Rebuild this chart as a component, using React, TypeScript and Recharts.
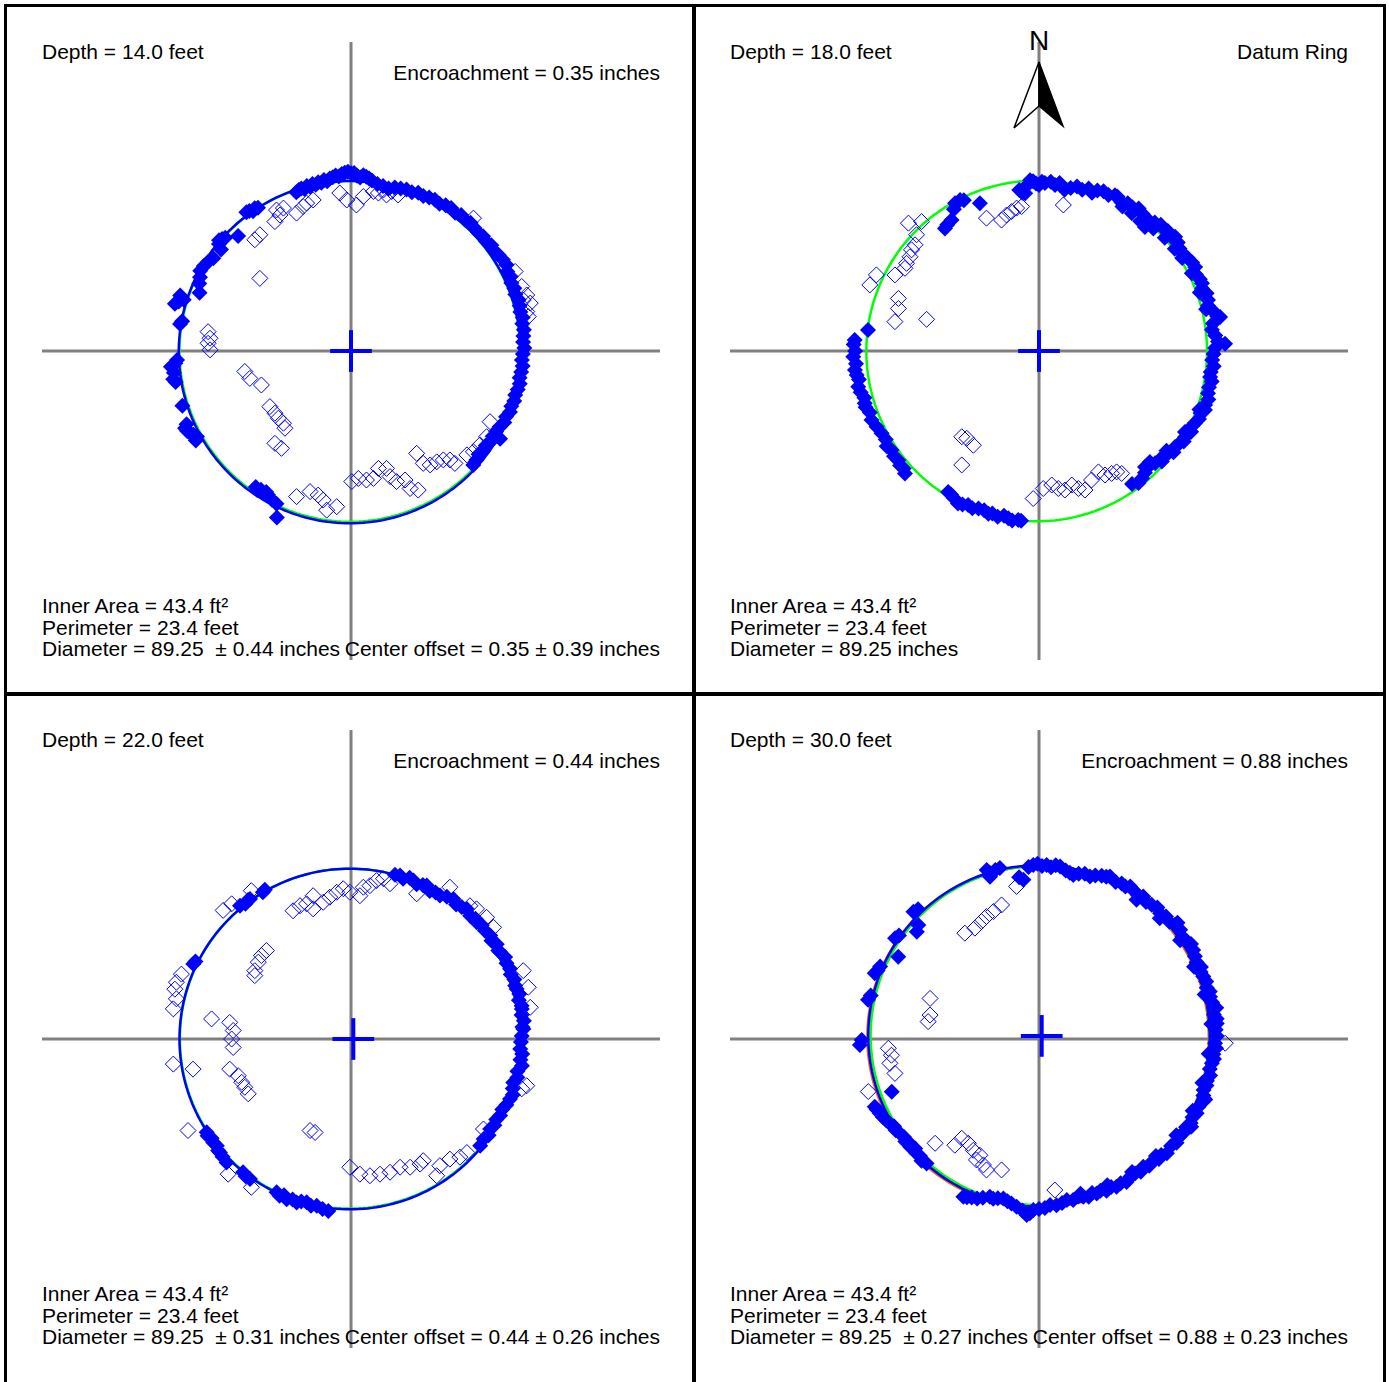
import React from 'react';
import { ScatterChart, Scatter, XAxis, YAxis, ReferenceLine } from 'recharts';

// Radial caliper readings, [bearing in degrees (math convention), radius in inches]
const depth14Solid: [number, number][] = [
  [246, 47.2], [244, 44.0], [242, 43.6], [240, 43.0], [239, 42.6], [238, 43.2], [237, 42.8], [236, 43.4], [235, 43.0],
  [210, 46.4], [209, 45.6], [208, 46.2], [207, 46.8], [206, 47.2], [205, 47.4], [204, 46.6], [198, 45.9],
  [190, 46.1], [189, 46.6], [187, 46.2], [185, 46.8], [184, 45.6], [183, 45.1], [171, 44.8], [170, 44.4],
  [165, 47.2], [164, 46.4], [163, 45.3], [162, 46.5], [159, 42.0], [156, 43.0], [154, 43.5], [152, 44.2],
  [150, 44.0], [148, 43.6], [146, 43.0], [142, 42.7], [141, 44.0], [140, 44.6], [139, 44.2], [138, 43.8],
  [134.5, 41.7], [127, 45.0], [126, 44.8], [125, 44.2], [124, 44.6], [123, 44.2],
  [109, 43.5], [108, 43.8], [107, 44.0], [106, 43.6], [105, 44.2], [104, 43.8], [103, 44.4], [102, 44.0],
  [101, 44.5], [100, 44.2], [99, 44.8], [98, 44.4], [97, 45.0], [96, 45.2], [95, 45.6], [94, 45.3], [93, 45.9],
  [92, 46.2], [91, 46.4], [90, 46.0], [89, 46.1], [88, 45.4], [87, 45.0], [86, 45.6], [85, 45.3], [84, 44.9], [83, 44.5],
  [81, 43.8], [79, 43.5], [77, 43.2], [75, 43.8], [73, 44.0], [71, 44.2], [69, 44.0], [67, 44.5], [65, 44.3],
  [63, 44.6], [61, 44.8], [59, 44.5], [57, 45.0], [55, 45.2], [53, 44.8], [51, 45.3], [49, 45.0], [47, 45.4],
  [45, 45.1], [43, 45.0], [41, 45.3], [39, 45.0], [37, 45.5], [35, 45.2], [33, 45.6], [31, 45.9], [29, 46.0],
  [27, 45.4], [25, 45.6], [23, 45.1], [21, 45.3], [19, 45.0], [17, 45.4], [15, 45.2], [13, 45.0], [11, 45.3],
  [9, 44.9], [7, 45.1], [5, 44.8], [3, 44.6], [1, 44.9], [-1, 44.5], [-3, 44.3], [-5, 44.6], [-7, 44.4],
  [-9, 44.2], [-11, 44.5], [-13, 44.3], [-15, 44.0], [-17, 44.2], [-19, 43.9], [-21, 44.1], [-23, 43.6],
  [-25, 43.8], [-27, 43.2], [-29, 43.0], [-30.5, 44.8], [-31, 42.8], [-33, 43.1], [-35, 42.6], [-37, 42.9],
  [-39, 42.5], [-41, 43.0], [-43, 43.3],
];

// Rejected readings, [x, y] in inches
const depth14Open: [number, number][] = [
  [-19.3, 36.5], [-17.5, 37.0], [-19.7, 33.5], [-18.4, 35.2], [-14.1, 35.7], [-12.4, 37.4], [-11.5, 38.3],
  [-9.8, 39.1], [-2.9, 40.9], [-1.1, 39.1], [1.4, 37.8], [3.2, 40.0], [5.8, 41.3], [7.1, 40.9], [8.4, 41.7],
  [9.2, 40.4], [10.5, 41.3], [12.2, 40.4], [-23.6, 30.1], [-24.9, 28.8], [-23.6, 18.8], [-37.0, 5.0],
  [-36.5, 3.3], [-37.0, 2.0], [-36.5, 0.3], [-27.5, -5.3], [-26.2, -7.1], [-23.2, -8.8], [-21.0, -14.4],
  [-19.7, -16.1], [-18.8, -17.4], [-17.5, -18.7], [-17.1, -20.0], [-19.7, -23.9], [-18.0, -25.2],
  [-14.1, -37.7], [-10.6, -36.4], [-8.5, -37.3], [-7.2, -38.6], [-6.3, -41.2], [-3.7, -40.3], [0.2, -33.8],
  [1.9, -33.0], [4.0, -33.4], [5.8, -33.0], [7.1, -30.4], [9.2, -30.4], [10.1, -32.5], [11.8, -33.8],
  [14.0, -33.4], [15.3, -35.6], [17.4, -36.0], [17.0, -26.5], [18.7, -29.1], [20.5, -29.5], [22.2, -28.7],
  [23.9, -28.2], [25.6, -28.2], [26.9, -29.1], [30.0, -26.9], [31.7, -26.1], [33.4, -24.3], [35.1, -22.2],
  [36.0, -18.3], [42.5, 20.6], [44.2, 16.7], [45.5, 14.5], [44.6, 13.2], [46.4, 12.4], [45.5, 10.2],
  [45.9, 8.9], [31.7, 34.4],
];

const depth18Solid: [number, number][] = [
  [97, 42.0], [96, 41.2], [95, 41.0], [94, 43.1], [93, 44.3], [92, 44.0], [91, 43.4], [90, 43.0], [89, 43.8],
  [88, 43.5], [86, 43.9], [84.5, 43.2], [83, 43.8], [81, 42.3], [79, 43.0], [77, 43.7], [75, 43.2], [73, 44.0],
  [71.5, 43.2], [70, 44.2], [68, 44.6], [66, 44.2], [64, 44.9], [63, 44.8], [61, 44.0], [59, 44.6], [57, 44.4],
  [55, 45.0], [53, 44.5], [51.7, 44.3], [49.5, 42.2], [48, 44.8], [46, 45.4], [45, 45.2], [43, 45.6], [41, 45.2],
  [40, 46.0], [38, 45.6], [36, 45.0], [34.4, 44.9], [32, 45.4], [30, 45.8], [28.3, 45.9], [26, 45.2], [24, 45.6],
  [22.6, 45.7], [21, 45.2], [19, 45.9], [16.8, 45.7], [15, 45.3], [13, 46.2], [11, 47.0], [10.6, 47.7], [9, 45.6],
  [7, 45.1], [5, 45.8], [3, 46.4], [2.2, 48.2], [1, 45.6], [-1, 45.2], [-3, 44.9], [-5, 45.4], [-7, 44.8],
  [-8.6, 44.8], [-10, 45.4], [-12, 45.0], [-14, 45.1], [-16, 45.6], [-18, 45.2], [-19.6, 45.6], [-21, 44.8],
  [-23, 45.0], [-24.8, 44.5], [-26, 44.2], [-28, 44.6], [-30.5, 43.9], [-32, 44.2], [-34, 43.4], [-35.2, 43.1],
  [-37, 43.6], [-39, 42.6], [-40.8, 42.1], [-42, 42.8], [-44, 41.8], [-46, 41.2], [-47.6, 40.7], [-49, 41.8],
  [-51, 42.4], [-53, 42.8], [-55, 42.0],
  [60, 43.2], [56, 43.0], [52, 42.6], [47, 43.4], [42, 43.8], [37, 44.0], [33, 44.2], [27, 44.4], [20, 44.3],
  [14, 44.6], [-20, 44.2], [-29, 43.2], [-38, 41.9], [-45, 40.6],
  [264, 44.2], [263, 44.1], [261, 44.4], [259.6, 44.0], [258, 43.6], [256, 44.2], [254, 43.8], [252.7, 44.1],
  [251, 43.6], [249, 43.7], [247, 44.2], [245.3, 43.9], [243.5, 44.4], [242, 44.7], [240, 44.0], [238.5, 43.6],
  [237.2, 43.4],
  [222.4, 47.0], [221, 46.4], [219.5, 46.6], [217.8, 46.1], [216, 46.4], [213.9, 46.0], [212, 46.5], [210, 45.8],
  [207.6, 46.0], [205, 46.4], [202.4, 46.9], [200, 46.6], [198, 47.2], [196.7, 47.1], [195, 46.8], [193, 47.4],
  [191.2, 47.7], [189, 47.2], [187.5, 47.6], [185.9, 47.9], [184, 47.5], [181.8, 48.1], [180, 47.6], [178, 48.0],
  [176.6, 47.8], [173, 44.6],
  [127.5, 40.0], [126, 40.4], [123.7, 40.8], [121, 42.8], [119.6, 44.0], [117.6, 44.1], [116.5, 43.6], [111.8, 41.2],
];

const depth18Open: [number, number][] = [
  [-33.8, 33.1], [-30.4, 33.5], [-31.7, 30.1], [-32.1, 27.5], [-33.0, 26.2], [-33.4, 24.4], [-34.3, 22.7],
  [-34.7, 21.4], [-37.3, 19.7], [-42.1, 19.7], [-43.8, 17.1], [-36.4, 13.6], [-36.4, 11.0], [-37.3, 7.6],
  [-29.1, 8.2], [-13.6, 34.4], [-9.7, 33.9], [-8.4, 35.2], [-7.1, 36.1], [-5.8, 37.0], [-4.5, 37.4], [6.3, 37.8],
  [-20.0, -22.2], [-18.7, -22.6], [-17.0, -24.4], [-20.0, -29.5], [-1.5, -38.2], [1.1, -35.6], [3.3, -34.7],
  [5.0, -35.6], [6.7, -36.0], [8.5, -34.7], [10.2, -35.6], [11.9, -36.0], [13.6, -33.4], [15.4, -31.3],
  [17.1, -32.1], [18.8, -31.7], [20.1, -31.3], [21.4, -31.7],
];

const depth22Solid: [number, number][] = [
  [75, 44.0], [73.3, 44.2], [72, 43.6], [70, 44.4], [68.5, 44.1], [67, 43.5], [65, 44.0], [63.7, 44.3], [62, 43.4],
  [60, 43.8], [58.2, 43.7], [56, 44.4], [53.8, 44.9], [52, 44.2], [50, 44.6], [48.3, 45.1], [46, 44.4], [44, 44.8],
  [42.9, 44.4], [41, 44.9], [39, 44.6], [36.6, 44.9], [35, 44.4], [33, 45.0], [31, 44.5], [30.2, 44.7], [28, 45.2],
  [26, 44.8], [23.8, 45.0], [22, 44.6], [20, 45.0], [18, 44.7], [16.8, 44.8], [15, 45.1], [13, 44.6], [11, 45.0],
  [10, 44.9], [8, 44.6], [6, 45.0], [4, 44.5], [3.3, 44.7], [1, 44.2], [-1, 44.0], [-3.4, 43.9], [-5, 44.5],
  [-7, 44.2], [-8.9, 44.8], [-11, 43.9], [-13, 44.2], [-15, 43.5], [-17, 43.8], [-19, 44.3], [-20.7, 44.0],
  [-23, 43.7], [-25, 43.2], [-27.2, 43.4], [-29, 43.0], [-31, 43.3], [-32.9, 42.9], [-35, 43.5], [-37, 43.0],
  [-39.6, 43.4],
  [129.8, 44.9], [128, 44.4], [126.5, 44.8], [125.8, 44.7], [121, 44.3], [120, 44.6], [154.6, 45.2], [153.5, 45.0],
  [212.9, 44.5], [214, 44.8], [215.5, 44.3], [216.9, 44.6], [218.5, 44.4], [220, 44.9], [220.9, 44.9], [222.5, 45.1],
  [224.8, 45.4], [231, 44.4], [232.5, 44.8], [234.2, 44.7], [244.1, 44.1], [245.5, 44.6], [246.8, 44.0],
  [248.1, 44.7], [250, 44.2], [251.6, 44.6], [253, 44.0], [254.8, 43.8], [256.5, 44.4], [258.4, 44.1],
  [260.5, 44.6], [262.5, 44.9],
];

const depth22Open: [number, number][] = [
  [-33.1, 33.3], [-30.9, 35.0], [-25.8, 38.4], [-43.9, 16.8], [-45.2, 14.7], [-45.6, 12.9], [-45.2, 10.4],
  [-46.0, 7.8], [-15.0, 33.2], [-13.2, 34.5], [-11.5, 35.0], [-9.8, 37.1], [-9.8, 33.7], [-7.2, 35.4],
  [-5.5, 36.7], [-3.7, 38.0], [-2.0, 38.9], [-0.3, 38.0], [2.3, 37.1], [3.2, 39.3], [4.9, 39.7], [6.6, 41.0],
  [8.4, 41.5], [10.1, 40.2], [17.0, 37.6], [25.6, 39.3], [30.8, 34.5], [32.5, 33.7], [35.1, 31.5], [36.9, 28.9],
  [44.6, 17.7], [45.9, 13.4], [46.4, 8.2], [45.5, -12.1], [44.2, -12.9], [-21.9, 22.9], [-23.2, 21.6],
  [-24.0, 19.9], [-24.9, 17.7], [-24.9, 16.4], [-36.1, 5.2], [-31.4, 4.3], [-30.5, 2.2], [-30.9, 0.0],
  [-30.5, -2.2], [-46.0, -6.5], [-40.9, -7.8], [-31.4, -7.8], [-29.2, -9.5], [-28.3, -11.2], [-27.5, -12.5],
  [-26.6, -14.2], [-42.2, -23.7], [-10.6, -23.7], [-9.3, -24.2], [-31.8, -35.0], [-25.8, -38.4], [-0.3, -33.2],
  [2.3, -35.0], [4.9, -35.4], [7.5, -35.0], [10.1, -34.5], [12.7, -33.2], [15.3, -33.2], [17.9, -32.4],
  [18.7, -31.5], [22.2, -35.4], [23.0, -32.8], [25.6, -31.1], [28.2, -30.6], [30.0, -29.4], [34.3, -23.3],
];

const depth30Solid: [number, number][] = [
  [107.2, 45.8], [106.5, 44.8], [106.8, 43.9], [104.5, 45.2], [102.9, 45.4], [97, 42.2], [95.6, 41.4],
  [93.5, 44.6], [91.9, 45.1], [90.5, 45.4], [89, 44.8], [87.5, 45.1], [86, 44.6], [84.5, 45.2], [83, 45.0],
  [81, 44.2], [79.5, 43.8], [78.2, 43.4], [76.5, 44.0], [74.5, 44.4], [72.6, 44.1], [71, 44.8], [69, 45.3],
  [67.5, 45.5], [66.4, 45.9], [64, 45.2], [62, 45.6], [60.5, 45.4], [59.1, 46.0], [57, 45.5], [55.5, 45.2],
  [53.8, 45.7], [52, 45.0], [50, 45.4], [48, 45.8], [46.1, 45.2], [44, 45.7], [42, 45.4], [40, 46.0],
  [37.7, 46.2], [35.5, 45.6], [33.5, 45.9], [32, 46.4], [30, 46.1], [28, 45.7], [26, 45.4], [24, 45.9],
  [22.5, 45.3], [20.8, 45.5], [19, 45.8], [17, 45.4], [15.5, 45.9], [13.9, 45.6], [12, 45.8], [10, 46.1],
  [8, 45.7], [6.5, 46.3], [5, 46.2], [3, 45.8], [1, 46.0], [-1.4, 45.6], [-3, 45.9], [-5, 45.3], [-6.5, 45.6],
  [-8, 45.2], [-10, 44.9], [-12, 45.3], [-14, 44.8], [-15.5, 45.0], [-17.2, 44.6], [-19, 45.0], [-21, 45.4],
  [-23, 44.9], [-25.2, 45.1], [-27, 44.6], [-29, 44.9], [-31, 44.4], [-33.2, 44.6], [-35, 44.2], [-37, 44.6],
  [-39, 44.0], [-41.8, 44.4], [-43.5, 43.6], [-45, 43.9], [-47, 43.2], [-49, 43.5], [-50.8, 42.7], [-52.5, 43.3],
  [-54.5, 42.8], [-56.5, 42.8], [-58.5, 43.4], [-60.5, 42.9], [-62.3, 43.2], [-64, 42.6], [-66, 43.0],
  [-68, 42.4], [-69.5, 42.7], [-71, 42.2], [-72.5, 42.8], [-74.3, 42.4], [-76, 42.0], [-78, 42.6], [-80.2, 42.3],
  [-82, 42.9], [-84, 43.3], [-86.2, 43.1], [-88, 43.8], [-90, 44.0], [268.1, 44.3], [267, 45.2], [266, 45.7],
  [55, 44.0], [45, 44.2], [35, 44.6], [25, 44.3], [15, 44.4], [5, 44.8], [-5, 44.1], [-15, 43.8], [-25, 43.9],
  [-35, 43.4], [-45, 42.8], [-55, 42.0], [-65, 41.8], [-75, 41.5], [40, 46.8], [10, 46.6], [-20, 45.8], [-30, 45.5],
  [264.5, 44.6], [262.4, 43.8], [260.5, 43.2], [259, 42.8], [257.4, 42.3], [255.5, 42.6], [254, 43.0],
  [252.7, 42.8], [250.5, 43.6], [248.8, 44.3], [247, 44.6], [245.5, 45.0], [244.4, 45.3],
  [227.9, 43.4], [226, 43.8], [224.5, 43.2], [223, 43.4], [221.5, 42.8], [220, 43.5], [219, 43.0], [217.5, 43.6],
  [216, 43.2], [214.2, 43.5], [212.5, 44.0], [211, 43.8], [209.5, 44.4], [208, 44.8], [206.5, 45.2], [205, 45.5],
  [203.5, 45.8], [202.4, 46.0], [199.7, 40.5],
  [180.3, 45.9], [181.9, 46.4], [167.1, 45.4], [165.5, 45.0], [158.2, 45.8], [157, 45.4], [155.5, 45.2],
  [149.7, 42.2], [145, 45.5], [143.5, 45.1], [138.7, 42.1], [136.6, 43.0], [134.6, 46.3], [133, 45.9],
];

const depth30Open: [number, number][] = [
  [-5.8, 39.5], [-19.2, 27.4], [-16.6, 28.7], [-14.9, 30.4], [-13.6, 31.7], [-11.8, 33.0], [-9.7, 34.7],
  [-28.2, 10.5], [-28.2, 6.2], [-28.7, 4.5], [-39.0, -2.4], [-38.2, -4.2], [-38.6, -6.3], [-37.3, -8.9],
  [-44.2, -13.6], [-26.9, -27.0], [-21.8, -27.5], [-20.0, -25.7], [-18.3, -27.0], [-17.0, -28.8],
  [-15.3, -30.1], [-16.2, -31.3], [-14.4, -32.6], [-13.6, -33.9], [-9.7, -33.9], [4.1, -39.1], [48.2, -1.1],
];

// fitted / datum rings: [centre x, centre y, radius] in inches
const depth14Rings: [number, number, number, string][] = [[-0.3, -0.1, 44.1, '#00ff00'], [-0.3, -0.3, 44.3, '#0000ff']];
const depth18Rings: [number, number, number, string][] = [[-0.6, 0.0, 44.1, '#00ff00']];
const depth22Rings: [number, number, number, string][] = [[-0.3, 0.1, 44.0, '#00ff00'], [-0.3, 0.0, 44.1, '#0000ff']];
const depth30Rings: [number, number, number, string][] = [
  [-0.25, 0.55, 44.2, '#ff6a00'], [0.3, 0.9, 43.9, '#00ff00'], [0.0, 0.8, 44.2, '#0000ff'],
];

const centers: [number, number][] = [[0, 0], [0, 0], [0.6, 0], [0.7, 0.8]];
const depths = ['14.0', '18.0', '22.0', '30.0'];
const encroachments = ['0.35', '', '0.44', '0.88'];
const diameterSpread = ['0.44', '', '0.31', '0.27'];
const offsetSpread = ['0.39', '', '0.26', '0.23'];

const BLUE = '#0000ff';
const FONT = '"Liberation Sans", Arial, Helvetica, sans-serif';

const polarToXY = (pts: [number, number][]) =>
  pts.map(([deg, r]) => ({ x: r * Math.cos((deg * Math.PI) / 180), y: r * Math.sin((deg * Math.PI) / 180) }));

const toXY = (pts: [number, number][]) => pts.map(([x, y]) => ({ x, y }));

const ringPath = (cx: number, cy: number, r: number) => {
  const out: { x: number; y: number }[] = [];
  for (let a = 0; a <= 360; a += 1.5) {
    out.push({ x: cx + r * Math.cos((a * Math.PI) / 180), y: cy + r * Math.sin((a * Math.PI) / 180) });
  }
  return out;
};

const SolidDiamond = (props: any) => {
  const { cx, cy } = props;
  const s = 8;
  return <path d={`M${cx},${cy - s}L${cx + s},${cy}L${cx},${cy + s}L${cx - s},${cy}Z`} fill={BLUE} />;
};

const OpenDiamond = (props: any) => {
  const { cx, cy } = props;
  const s = 8;
  return (
    <path d={`M${cx},${cy - s}L${cx + s},${cy}L${cx},${cy + s}L${cx - s},${cy}Z`} fill="none" stroke={BLUE} strokeWidth={1} />
  );
};

const NoDot = () => <g />;

const panels = [
  { solid: depth14Solid, open: depth14Open, rings: depth14Rings },
  { solid: depth18Solid, open: depth18Open, rings: depth18Rings },
  { solid: depth22Solid, open: depth22Open, rings: depth22Rings },
  { solid: depth30Solid, open: depth30Open, rings: depth30Rings },
];

const PANEL = 688;

const CaliperPanel = ({ idx }: { idx: number }) => {
  const p = panels[idx];
  const [cx, cy] = centers[idx];
  return (
    <ScatterChart width={694} height={694} margin={{ top: 42, right: 34, bottom: 34, left: 42 }}>
      <XAxis type="number" dataKey="x" domain={[-80, 80]} hide allowDataOverflow />
      <YAxis type="number" dataKey="y" domain={[-80, 80]} hide allowDataOverflow />
      <ReferenceLine x={0} stroke="#808080" strokeWidth={3} />
      <ReferenceLine y={0} stroke="#808080" strokeWidth={3} />
      {p.rings.map(([rx, ry, rr, color], i) => (
        <Scatter
          key={`ring${i}`}
          data={ringPath(rx, ry, rr)}
          line={{ stroke: color, strokeWidth: 2.5 }}
          shape={NoDot}
          isAnimationActive={false}
        />
      ))}
      <Scatter data={toXY(p.open)} shape={OpenDiamond} isAnimationActive={false} />
      <Scatter data={polarToXY(p.solid)} shape={SolidDiamond} isAnimationActive={false} />
      <ReferenceLine segment={[{ x: cx - 5.4, y: cy }, { x: cx + 5.4, y: cy }]} stroke={BLUE} strokeWidth={4} />
      <ReferenceLine segment={[{ x: cx, y: cy - 5.4 }, { x: cx, y: cy + 5.4 }]} stroke={BLUE} strokeWidth={4} />
    </ScatterChart>
  );
};

const PanelText = ({ idx }: { idx: number }) => {
  const ox = (idx % 2) * PANEL;
  const oy = Math.floor(idx / 2) * PANEL;
  const datum = encroachments[idx] === '';
  const t = { fontFamily: FONT, fontSize: 21, fill: '#000', style: { whiteSpace: 'pre' as const } };
  return (
    <g>
      <text x={ox + 42} y={oy + 59} {...t}>{`Depth = ${depths[idx]} feet`}</text>
      {datum ? (
        <text x={ox + 660} y={oy + 59} textAnchor="end" {...t}>Datum Ring</text>
      ) : (
        <text x={ox + 660} y={oy + 80} textAnchor="end" {...t}>{`Encroachment = ${encroachments[idx]} inches`}</text>
      )}
      <text x={ox + 42} y={oy + 613} {...t}>Inner Area = 43.4 ft²</text>
      <text x={ox + 42} y={oy + 635} {...t}>Perimeter = 23.4 feet</text>
      <text x={ox + 42} y={oy + 656} {...t}>
        {datum ? 'Diameter = 89.25 inches' : `Diameter = 89.25  ± ${diameterSpread[idx]} inches`}
      </text>
      {!datum && (
        <text x={ox + 660} y={oy + 656} textAnchor="end" {...t}>
          {`Center offset = ${encroachments[idx]} ± ${offsetSpread[idx]} inches`}
        </text>
      )}
    </g>
  );
};

export default function App() {
  return (
    <div style={{ position: 'absolute', left: 0, top: 0, width: 1389, height: 1382, overflow: 'hidden', background: '#fff' }}>
      {[0, 1, 2, 3].map((i) => (
        <div key={i} style={{ position: 'absolute', left: (i % 2) * PANEL, top: Math.floor(i / 2) * PANEL }}>
          <CaliperPanel idx={i} />
        </div>
      ))}
      <svg width={1389} height={1382} style={{ position: 'absolute', left: 0, top: 0, pointerEvents: 'none' }}>
        {[0, 1, 2, 3].map((i) => (
          <PanelText key={i} idx={i} />
        ))}
        {/* north arrow */}
        <text x={1039} y={50} textAnchor="middle" fontFamily={FONT} fontSize={28} fill="#000">N</text>
        <polygon points="1039,62 1014,128 1039,106" fill="#fff" stroke="#000" strokeWidth={1.5} strokeLinejoin="miter" />
        <polygon points="1039,62 1063,126 1039,106" fill="#000" stroke="#000" strokeWidth={1.5} />
        {/* panel frames */}
        <line x1={5.5} y1={4} x2={5.5} y2={1382} stroke="#000" strokeWidth={3} />
        <line x1={1384.5} y1={4} x2={1384.5} y2={1382} stroke="#000" strokeWidth={3} />
        <line x1={4} y1={5.5} x2={1386} y2={5.5} stroke="#000" strokeWidth={3} />
        <line x1={694} y1={4} x2={694} y2={1382} stroke="#000" strokeWidth={4} />
        <line x1={4} y1={694} x2={1386} y2={694} stroke="#000" strokeWidth={4} />
      </svg>
    </div>
  );
}
